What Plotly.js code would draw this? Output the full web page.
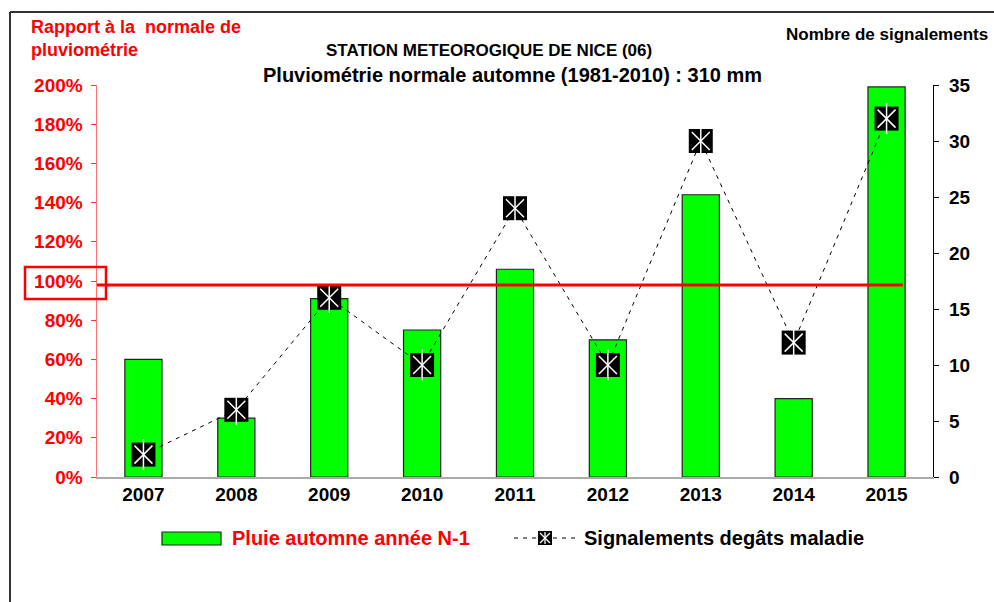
<!DOCTYPE html>
<html>
<head>
<meta charset="utf-8">
<script src="https://cdn.plot.ly/plotly-3.0.1.min.js"></script>
<style>html,body{margin:0;padding:0;background:#fff;}#chart{width:994px;height:602px;}</style>
</head>
<body>
<div id="chart"></div>
<script>
const years = ['2007','2008','2009','2010','2011','2012','2013','2014','2015'];
const rainPct = [60, 30, 91, 75, 106, 70, 144, 40, 199];
const reports = [2, 6, 16, 10, 24, 10, 30, 12, 32];
const normalLevel = 98;
const leftTicks = [0,20,40,60,80,100,120,140,160,180,200];
const leftTickText = leftTicks.map(v => v + '%');
const rightTicks = [0,5,10,15,20,25,30,35];
const barName = 'Pluie automne année N-1';
const lineName = 'Signalements degâts maladie';

const F = 'Liberation Sans, Arial, sans-serif';
const px = x => (x - 97) / 836;
const py = y => (477 - y) / 392;

const traces = [
  {
    type: 'bar', x: years, y: rainPct, yaxis: 'y', width: 0.4, name: barName,
    marker: {color: '#00ff00', line: {color: '#222', width: 1.2}}
  },
  {
    type: 'scatter', mode: 'lines+markers', x: years, y: reports, yaxis: 'y2', name: lineName,
    line: {color: '#000', width: 1, dash: '4px,5px'},
    marker: {symbol: 'square', size: 24, color: '#000'}
  },
  {
    type: 'scatter', mode: 'markers', x: years, y: reports, yaxis: 'y2', showlegend: false, hoverinfo: 'skip',
    marker: {symbol: 'x-thin-open', size: 18, color: '#fff', line: {color: '#fff', width: 1.5}}
  },
  {
    type: 'scatter', mode: 'markers', x: years, y: reports, yaxis: 'y2', showlegend: false, hoverinfo: 'skip',
    marker: {symbol: 'line-ns-open', size: 22, color: '#fff', line: {color: '#fff', width: 1.5}}
  }
];

const legendShapes = [
  {type: 'rect', xref: 'paper', yref: 'paper', x0: px(162), x1: px(221), y0: py(545), y1: py(532),
   fillcolor: '#00ff00', line: {color: '#222', width: 1.2}},
  {type: 'line', xref: 'paper', yref: 'paper', x0: px(514), x1: px(537), y0: py(538), y1: py(538),
   line: {color: '#000', width: 1, dash: '4px,5px'}},
  {type: 'line', xref: 'paper', yref: 'paper', x0: px(553), x1: px(578), y0: py(538), y1: py(538),
   line: {color: '#000', width: 1, dash: '4px,5px'}},
  {type: 'rect', xref: 'paper', yref: 'paper', x0: px(538), x1: px(552), y0: py(545), y1: py(531),
   fillcolor: '#000', line: {color: '#000', width: 0}},
  {type: 'line', xref: 'paper', yref: 'paper', x0: px(540), x1: px(550), y0: py(533), y1: py(543),
   line: {color: '#fff', width: 1.3}},
  {type: 'line', xref: 'paper', yref: 'paper', x0: px(550), x1: px(540), y0: py(533), y1: py(543),
   line: {color: '#fff', width: 1.3}},
  {type: 'line', xref: 'paper', yref: 'paper', x0: px(545), x1: px(545), y0: py(532), y1: py(544),
   line: {color: '#fff', width: 1.3}}
];

const layout = {
  width: 994, height: 602,
  margin: {l: 97, r: 61, t: 85, b: 125},
  paper_bgcolor: '#fff', plot_bgcolor: '#fff',
  font: {family: F, size: 17, color: '#000'},
  showlegend: false,
  bargap: 0.6,
  xaxis: {
    type: 'category', range: [-0.5, 8.5], showgrid: false, zeroline: false,
    showline: true, linecolor: '#aaa', linewidth: 1.5, ticks: '',
    tickfont: {family: F, size: 19, color: '#000', weight: 'bold'}
  },
  yaxis: {
    range: [0, 200], tickvals: leftTicks, ticktext: leftTickText, showgrid: false, zeroline: false,
    showline: true, linecolor: '#ff7070', linewidth: 1.5, ticks: 'outside', ticklen: 5, tickcolor: '#ff3030',
    ticklabelstandoff: 4,
    tickfont: {family: F, size: 19, color: '#ff0000', weight: 'bold'}
  },
  yaxis2: {
    range: [0, 35], tickvals: rightTicks, overlaying: 'y', side: 'right', showgrid: false, zeroline: false,
    showline: true, linecolor: '#000', linewidth: 1.2, ticks: 'outside', ticklen: 5, tickcolor: '#000',
    ticklabelstandoff: 6,
    tickfont: {family: F, size: 19, color: '#000', weight: 'bold'}
  },
  shapes: [
    {type: 'line', xref: 'paper', yref: 'y', x0: 0, x1: 0.964, y0: normalLevel, y1: normalLevel,
     line: {color: '#ff0000', width: 3}, layer: 'above'},
    {type: 'rect', xref: 'paper', yref: 'paper', x0: px(25), x1: px(106), y0: py(299), y1: py(267),
     line: {color: '#ff0000', width: 2.5}},
    {type: 'line', xref: 'paper', yref: 'paper', x0: px(10), x1: 1.1, y0: py(12), y1: py(12),
     line: {color: '#333', width: 2}},
    {type: 'line', xref: 'paper', yref: 'paper', x0: px(10), x1: px(10), y0: py(12), y1: py(640),
     line: {color: '#333', width: 2}}
  ].concat(legendShapes),
  annotations: [
    {xref: 'paper', yref: 'paper', x: px(489), y: py(50), xanchor: 'center', yanchor: 'middle',
     text: 'STATION METEOROGIQUE DE NICE (06)', showarrow: false,
     font: {family: F, size: 17, color: '#000', weight: 'bold'}},
    {xref: 'paper', yref: 'paper', x: px(512), y: py(75), xanchor: 'center', yanchor: 'middle',
     text: 'Pluviométrie normale automne (1981-2010) : 310 mm', showarrow: false,
     font: {family: F, size: 20, color: '#000', weight: 'bold'}},
    {xref: 'paper', yref: 'paper', x: px(29), y: py(27), xanchor: 'left', yanchor: 'middle',
     text: 'Rapport à la  normale de', showarrow: false,
     font: {family: F, size: 18, color: '#ff0000', weight: 'bold'}},
    {xref: 'paper', yref: 'paper', x: px(29), y: py(50), xanchor: 'left', yanchor: 'middle',
     text: 'pluviométrie', showarrow: false,
     font: {family: F, size: 18, color: '#ff0000', weight: 'bold'}},
    {xref: 'paper', yref: 'paper', x: px(784), y: py(35), xanchor: 'left', yanchor: 'middle',
     text: 'Nombre de signalements', showarrow: false,
     font: {family: F, size: 17, color: '#000', weight: 'bold'}},
    {xref: 'paper', yref: 'paper', x: px(230), y: py(538), xanchor: 'left', yanchor: 'middle',
     text: barName, showarrow: false,
     font: {family: F, size: 20, color: '#ff0000', weight: 'bold'}},
    {xref: 'paper', yref: 'paper', x: px(582), y: py(538), xanchor: 'left', yanchor: 'middle',
     text: lineName, showarrow: false,
     font: {family: F, size: 20, color: '#000', weight: 'bold'}}
  ]
};

Plotly.newPlot('chart', traces, layout, {displayModeBar: false, staticPlot: true});
</script>
</body>
</html>
